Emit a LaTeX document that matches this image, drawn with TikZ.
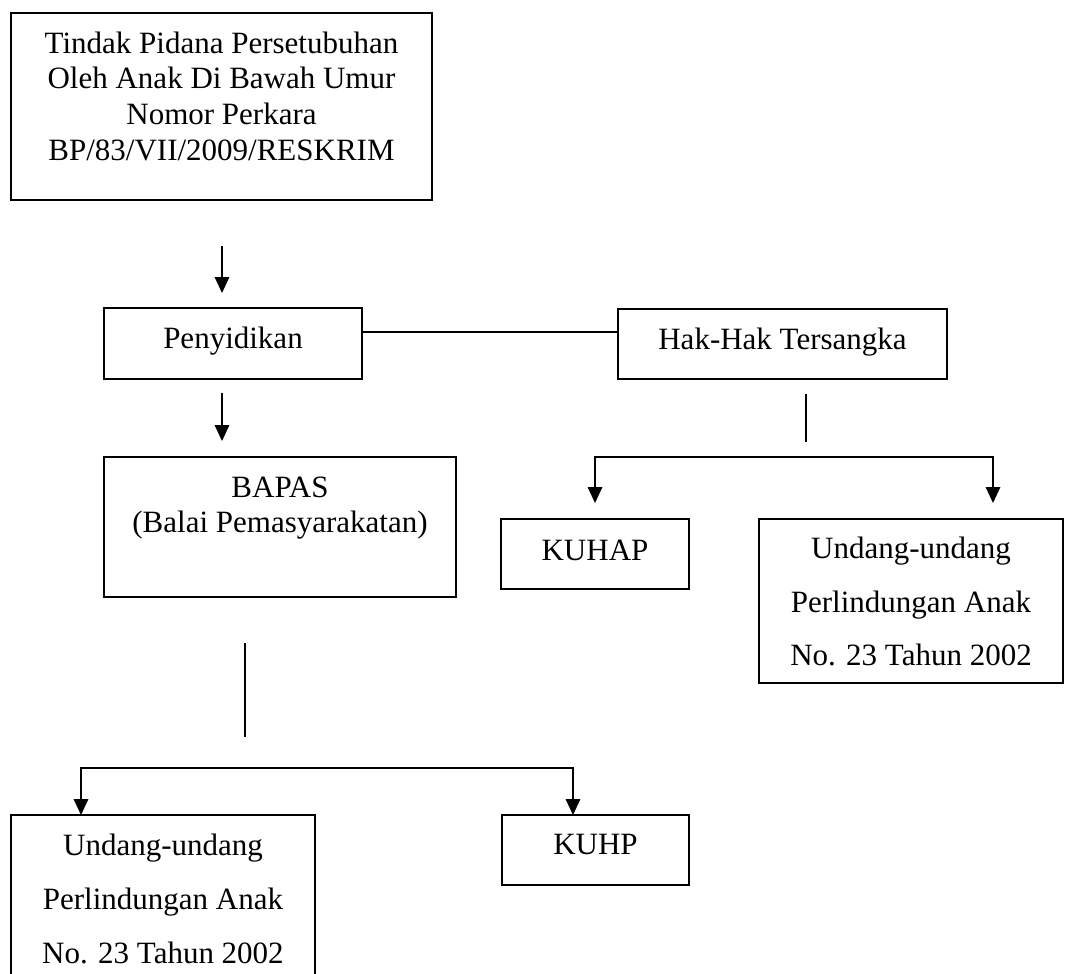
\documentclass[tikz,border=0pt]{standalone}
\usepackage{fontspec}
\setmainfont{Liberation Serif}
\usetikzlibrary{arrows.meta,fit}
\begin{document}
\begin{tikzpicture}[x=0.5pt,y=-0.5pt,
  box/.style={draw, line width=1pt, inner sep=0pt, outer sep=0pt, rectangle},
  lbl/.style={anchor=base, inner sep=0pt, font=\fontsize{15.5}{18}\selectfont},
  conn/.style={line width=0.7pt},
  arr/.style={line width=0.7pt, -{Triangle[length=8pt,width=7.3pt]}},
  arrtwo/.style={line width=0.7pt, {Triangle[length=8pt,width=7.3pt]}-{Triangle[length=8pt,width=7.3pt]}}]
\clip (0,0) rectangle (1065,974);
\fill[white] (0,0) rectangle (1065,974);

% boxes
\node[box, fit={(11,13) (432,200)}] (top) {};
\node[lbl] (top1) at (221.5,53.3) {Tindak Pidana Persetubuhan};
\node[lbl] (top2) at (221.5,89) {Oleh Anak Di Bawah Umur};
\node[lbl] (top3) at (221.5,125) {Nomor Perkara};
\node[lbl] (top4) at (221.5,160.7) {BP/83/VII/2009/RESKRIM};

\node[box, fit={(104,308) (362,379)}] (pen) {};
\node[lbl] (pent) at (233,348) {Penyidikan};

\node[box, fit={(618,309) (947,379)}] (hak) {};
\node[lbl] (hakt) at (782.5,349) {Hak-Hak Tersangka};

\node[box, fit={(104,457) (456,597)}] (bapas) {};
\node[lbl] (bapas1) at (280,497) {BAPAS};
\node[lbl] (bapas2) at (280,532) {(Balai Pemasyarakatan)};

\node[box, fit={(501,519) (689,589)}] (kuhap) {};
\node[lbl] (kuhapt) at (595,560) {KUHAP};

\node[box, fit={(759,519) (1063,683)}] (uua) {};
\node[lbl] (uua1) at (911,558) {Undang-undang};
\node[lbl] (uua2) at (911,612) {Perlindungan Anak};
\node[lbl] (uua3) at (911,665) {No. 23 Tahun 2002};

\node[box, fit={(11,815) (315,1000)}] (uub) {};
\node[lbl] (uub1) at (163,855) {Undang-undang};
\node[lbl] (uub2) at (163,909) {Perlindungan Anak};
\node[lbl] (uub3) at (163,963) {No. 23 Tahun 2002};

\node[box, fit={(502,815) (689,885)}] (kuhp) {};
\node[lbl] (kuhpt) at (595.5,854) {KUHP};

% connectors
\coordinate (a1s) at (222,246);
\coordinate (a1e) at (222,293);
\draw[arr] (a1s) -- (a1e);

\coordinate (hl) at (0,332);
\draw[conn] (pen.east |- hl) -- (hak.west |- hl);

\coordinate (a2s) at (222,393);
\coordinate (a2e) at (222,441);
\draw[arr] (a2s) -- (a2e);

\coordinate (v1s) at (806,394);
\coordinate (v1e) at (806,442);
\draw[conn] (v1s) -- (v1e);

\coordinate (b1l) at (595,457);
\coordinate (b1r) at (993,457);
\coordinate (b1lt) at (595,503);
\coordinate (b1rt) at (993,503);
\draw[arrtwo] (b1lt) -- (b1l) -- (b1r) -- (b1rt);

\coordinate (v2s) at (245,643);
\coordinate (v2e) at (245,737);
\draw[conn] (v2s) -- (v2e);

\coordinate (b2l) at (81,768);
\coordinate (b2r) at (573,768);
\draw[arrtwo] (b2l |- uub.north) -- (b2l) -- (b2r) -- (b2r |- kuhp.north);
\end{tikzpicture}
\end{document}
